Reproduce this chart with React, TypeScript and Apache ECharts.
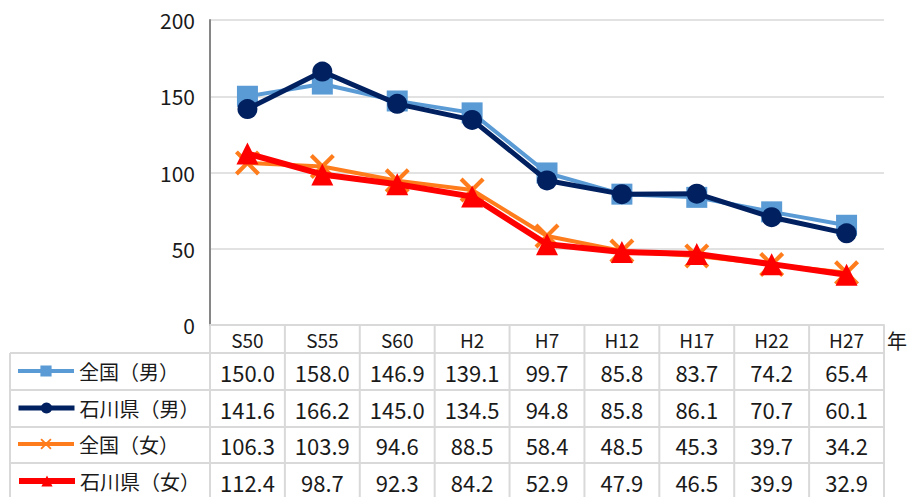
import React, { useEffect, useRef } from "react";
import * as echarts from "echarts";

const categories = ["S50", "S55", "S60", "H2", "H7", "H12", "H17", "H22", "H27"];
const nationalMale = [150.0, 158.0, 146.9, 139.1, 99.7, 85.8, 83.7, 74.2, 65.4];
const ishikawaMale = [141.6, 166.2, 145.0, 134.5, 94.8, 85.8, 86.1, 70.7, 60.1];
const nationalFemale = [106.3, 103.9, 94.6, 88.5, 58.4, 48.5, 45.3, 39.7, 34.2];
const ishikawaFemale = [112.4, 98.7, 92.3, 84.2, 52.9, 47.9, 46.5, 39.9, 32.9];
const seriesNames = ["全国（男）", "石川県（男）", "全国（女）", "石川県（女）"];
const seriesValues = [nationalMale, ishikawaMale, nationalFemale, ishikawaFemale];
const yMin = 0;
const yMax = 200;
const yInterval = 50;
const unitLabel = "年";

const W = 910;
const H = 497;
const gridLeft = 210;
const gridRight = 884;
const gridTop = 20;
const gridBottom = 325;
const rowLines = [353, 390, 427, 463, 500];
const rowCenters = [372, 409, 445, 482];
const headerCenter = 339;
const tableLeft = 10;

const colors = ["#5B9BD5", "#002060", "#FF7C1C", "#FF0000"];
const widths = [4, 5, 4, 6];
const crossPath =
  "path://M0,2.6 L2.6,0 L11,8.4 L19.4,0 L22,2.6 L13.6,11 L22,19.4 L19.4,22 L11,13.6 L2.6,22 L0,19.4 L8.4,11 Z";
const symbols = ["rect", "circle", crossPath, "triangle"];
const symbolSizes = [21, 20, 25, 22];

const numFont = "'Noto Sans CJK JP', sans-serif";
const jpFont = "'Noto Sans CJK JP', sans-serif";
const lineGray = "#d9d9d9";
const textColor = "#1a1a1a";

export default function App() {
  const ref = useRef<HTMLDivElement>(null);
  useEffect(() => {
    if (!ref.current) return;
    const chart = echarts.init(ref.current, null, { renderer: "svg" });
    const colW = (gridRight - gridLeft) / categories.length;

    const graphics: any[] = [];
    rowLines.forEach((y) => {
      graphics.push({
        type: "line",
        shape: { x1: tableLeft, y1: y, x2: gridRight, y2: y },
        style: { stroke: lineGray, lineWidth: 2 },
        silent: true,
      });
    });
    graphics.push({
      type: "line",
      shape: { x1: tableLeft, y1: rowLines[0], x2: tableLeft, y2: H + 5 },
      style: { stroke: lineGray, lineWidth: 2 },
      silent: true,
    });
    for (let k = 0; k <= categories.length; k++) {
      const x = gridLeft + k * colW;
      graphics.push({
        type: "line",
        shape: { x1: x, y1: gridBottom, x2: x, y2: H + 5 },
        style: { stroke: lineGray, lineWidth: 2 },
        silent: true,
      });
    }
    graphics.push({
      type: "text",
      x: 897,
      y: 340,
      style: {
        text: unitLabel,
        font: `20px ${jpFont}`,
        fill: textColor,
        textAlign: "center",
        textVerticalAlign: "middle",
      },
    });

    const xAxes: any[] = [
      {
        type: "category",
        data: categories,
        gridIndex: 0,
        position: "bottom",
        boundaryGap: true,
        axisLine: { show: true, lineStyle: { color: lineGray, width: 2 } },
        axisTick: { show: false },
        axisLabel: {
          interval: 0,
          margin: headerCenter - gridBottom,
          verticalAlign: "middle",
          fontSize: 19,
          fontFamily: numFont,
          color: textColor,
        },
        splitLine: { show: false },
      },
    ];
    seriesValues.forEach((vals, i) => {
      xAxes.push({
        type: "category",
        data: categories,
        gridIndex: 0,
        position: "bottom",
        boundaryGap: true,
        axisLine: { show: false },
        axisTick: { show: false },
        splitLine: { show: false },
        axisLabel: {
          interval: 0,
          margin: rowCenters[i] - gridBottom,
          verticalAlign: "middle",
          fontSize: 22,
          fontFamily: numFont,
          color: textColor,
          formatter: (_v: string, idx: number) => vals[idx].toFixed(1),
        },
      });
    });

    const legends = seriesNames.map((name, i) => ({
      data: [name],
      orient: "horizontal",
      left: 16,
      top: rowCenters[i] - 11,
      padding: 0,
      itemWidth: 56,
      itemHeight: 14,
      itemGap: 0,
      lineStyle: { width: widths[i] },
      textStyle: { fontSize: 20, fontFamily: jpFont, color: textColor },
      selectedMode: false,
    }));

    chart.setOption({
      animation: false,
      backgroundColor: "#ffffff",
      grid: {
        left: gridLeft,
        right: W - gridRight,
        top: gridTop,
        bottom: H - gridBottom,
        containLabel: false,
      },
      legend: legends,
      xAxis: xAxes,
      yAxis: {
        type: "value",
        min: yMin,
        max: yMax,
        interval: yInterval,
        axisLine: { show: true, lineStyle: { color: "#868686", width: 2 } },
        axisTick: { show: false },
        axisLabel: {
          margin: 15,
          fontSize: 21,
          fontFamily: numFont,
          color: textColor,
        },
        splitLine: { show: true, lineStyle: { color: lineGray, width: 1.5 } },
      },
      series: seriesNames.map((name, i) => ({
        name,
        type: "line",
        xAxisIndex: 0,
        yAxisIndex: 0,
        data: seriesValues[i],
        symbol: symbols[i],
        symbolSize: symbolSizes[i],
        showAllSymbol: true,
        lineStyle: { color: colors[i], width: widths[i] },
        itemStyle: { color: colors[i] },
        z: 2 + i,
      })),
      graphic: graphics,
    });
    return () => chart.dispose();
  }, []);
  return (
    <div
      ref={ref}
      style={{ position: "fixed", left: 0, top: 0, width: W, height: H }}
    />
  );
}
